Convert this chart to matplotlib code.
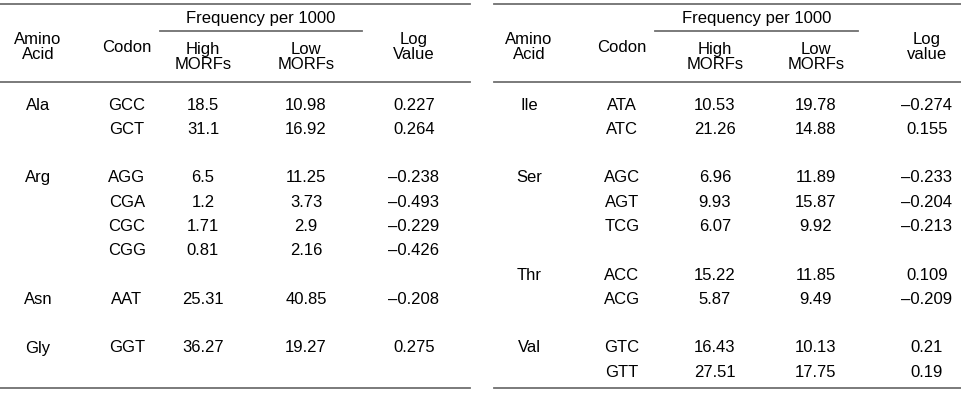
import matplotlib.pyplot as plt

plt.rcParams['font.family'] = ['Liberation Sans', 'DejaVu Sans']

# left table
left_amino = ['Ala', '', '', 'Arg', '', '', '', '', 'Asn', '', 'Gly']
left_codon = ['GCC', 'GCT', '', 'AGG', 'CGA', 'CGC', 'CGG', '', 'AAT', '', 'GGT']
left_high = ['18.5', '31.1', '', '6.5', '1.2', '1.71', '0.81', '', '25.31', '', '36.27']
left_low = ['10.98', '16.92', '', '11.25', '3.73', '2.9', '2.16', '', '40.85', '', '19.27']
left_log = ['0.227', '0.264', '', '–0.238', '–0.493', '–0.229', '–0.426', '', '–0.208', '', '0.275']

# right table
right_amino = ['Ile', '', '', 'Ser', '', '', '', 'Thr', '', '', 'Val', '']
right_codon = ['ATA', 'ATC', '', 'AGC', 'AGT', 'TCG', '', 'ACC', 'ACG', '', 'GTC', 'GTT']
right_high = ['10.53', '21.26', '', '6.96', '9.93', '6.07', '', '15.22', '5.87', '', '16.43', '27.51']
right_low = ['19.78', '14.88', '', '11.89', '15.87', '9.92', '', '11.85', '9.49', '', '10.13', '17.75']
right_log = ['–0.274', '0.155', '', '–0.233', '–0.204', '–0.213', '', '0.109', '–0.209', '', '0.21', '0.19']

W, H = 962, 400
fig = plt.figure(figsize=(9.62, 4.0), dpi=100)
ax = fig.add_axes([0, 0, 1, 1])
ax.set_xlim(0, W)
ax.set_ylim(H, 0)
ax.axis('off')

fs = 12
line_col = '#707070'


def draw_table(x0, x1, cols, fl, log_head, data):
    ax.plot([x0, x1], [4, 4], color=line_col, lw=1.3)
    ax.plot([fl[0], fl[1]], [31, 31], color=line_col, lw=1.3)
    ax.plot([x0, x1], [82, 82], color=line_col, lw=1.3)
    ax.plot([x0, x1], [388, 388], color=line_col, lw=1.3)
    ax.text((fl[0] + fl[1]) / 2, 18, 'Frequency per 1000', ha='center', va='center', fontsize=fs)
    heads = ['Amino\nAcid', 'Codon', 'High\nMORFs', 'Low\nMORFs', log_head]
    for i, (cx, h) in enumerate(zip(cols, heads)):
        y = 57 if i in (2, 3) else 47
        ax.text(cx, y, h, ha='center', va='center', fontsize=fs, linespacing=1.0)
    for c, col in enumerate(data):
        for r, v in enumerate(col):
            ax.text(cols[c], 105 + r * 24.3, v, ha='center', va='center', fontsize=fs)


draw_table(0, 470, [38, 127, 203, 306, 414], (160, 362), 'Log\nValue',
           [left_amino, left_codon, left_high, left_low, left_log])
draw_table(494, 962, [529, 622, 715, 816, 927], (655, 858), 'Log\nvalue',
           [right_amino, right_codon, right_high, right_low, right_log])

fig.savefig('out.png', dpi=100)
